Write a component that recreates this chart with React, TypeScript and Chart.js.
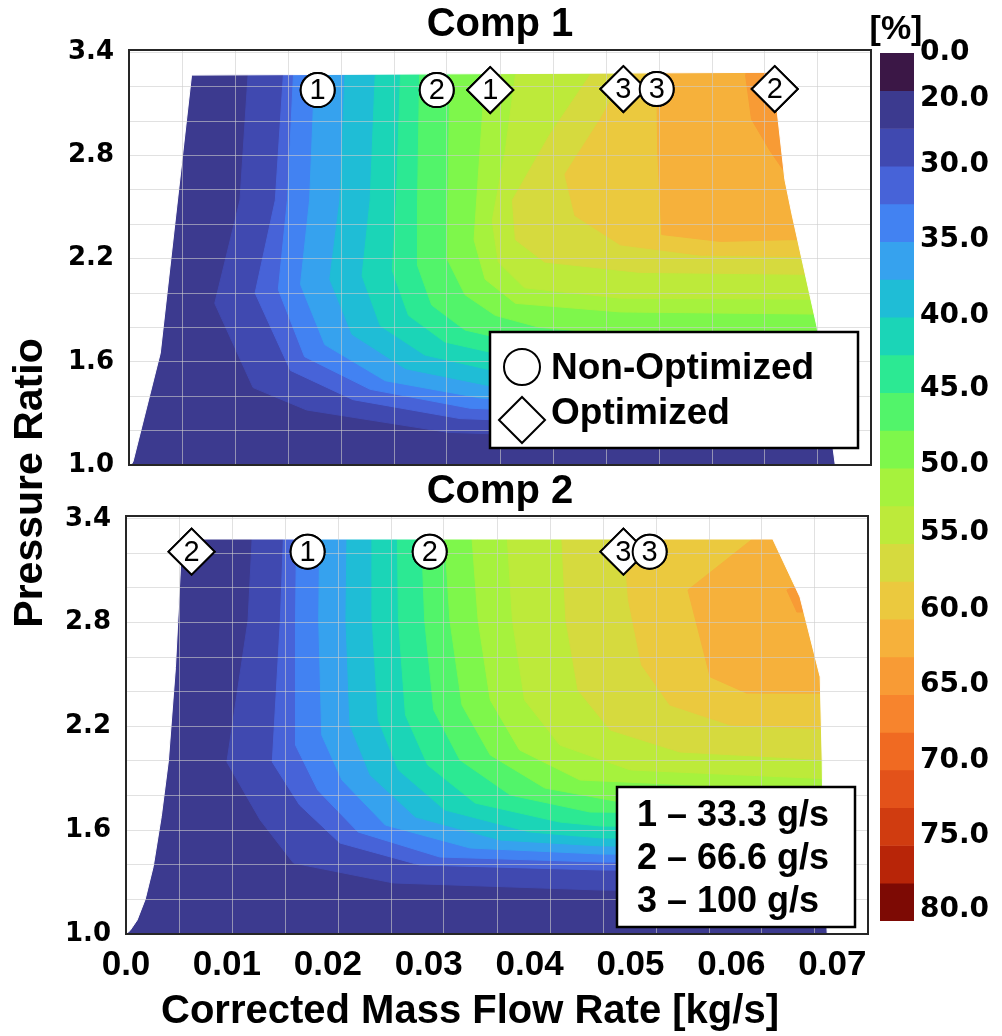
import React, { useEffect, useRef } from 'react';
import { Chart, registerables } from 'chart.js';

Chart.register(...registerables);

type P = [number, number];

// ---------------- colour scale ----------------
const levels = [0, 20, 25, 30, 32.5, 35, 37.5, 40, 42.5, 45, 47.5, 50, 52.5, 55, 57.5, 60, 62.5, 65, 67.5, 70, 72.5, 75, 77.5, 80];
const bandColors = [
  '#3b1746', '#3c3a8f', '#4049b0', '#4763d8', '#4282f2', '#36a2ee', '#1fbdd6', '#1bd5b7',
  '#2ce993', '#52f46a', '#7ef74b', '#a6f23d', '#bdea3a', '#d6da3e', '#ebc93e', '#f6b13b',
  '#f89b35', '#f7842d', '#f06a22', '#e3521a', '#d03c10', '#b82508', '#7d0a04',
];
const colorbarTickValues = [0, 20, 30, 35, 40, 45, 50, 55, 60, 65, 70, 75, 80];
// where each colour-bar label sits, in band units from the top of the bar
const colorbarTickPos = [0, 1.2, 2.95, 4.95, 6.95, 8.9, 10.9, 12.7, 14.75, 16.75, 18.75, 20.75, 22.7];
const yTickValues = [1.0, 1.6, 2.2, 2.8, 3.4];

// ---------------- Comp 1 ----------------
const comp1Outline: P[] = [[0.0002, 1.0], [0.0004, 1.02], [0.0031, 1.65], [0.0062, 3.267], [0.0632, 3.283], [0.0642, 3.08], [0.065, 2.66], [0.0657, 2.46], [0.0682, 1.8], [0.07, 1.0]];
const comp1_25: P[] = [[0.0118, 3.267], [0.011, 2.54], [0.0085, 1.94], [0.0123, 1.45], [0.0176, 1.32], [0.0316, 1.19], [0.0467, 1.16], [0.08, 1.145]];
const comp1_30: P[] = [[0.0153, 3.267], [0.0145, 2.54], [0.0125, 2.0], [0.016, 1.55], [0.0222, 1.38], [0.0328, 1.27], [0.0467, 1.24], [0.08, 1.22]];
const comp1_325: P[] = [[0.0163, 3.267], [0.0157, 2.54], [0.0148, 2.02], [0.0174, 1.63], [0.0239, 1.44], [0.0338, 1.33], [0.0467, 1.3], [0.08, 1.28]];
const comp1_35: P[] = [[0.0184, 3.267], [0.0179, 2.54], [0.017, 2.05], [0.0194, 1.7], [0.0254, 1.49], [0.0348, 1.39], [0.0467, 1.355], [0.08, 1.34]];
const comp1_375: P[] = [[0.0214, 3.267], [0.0209, 2.54], [0.0199, 2.08], [0.0221, 1.76], [0.0274, 1.56], [0.0358, 1.46], [0.0467, 1.42], [0.08, 1.41]];
const comp1_40: P[] = [[0.0244, 3.267], [0.0239, 2.54], [0.0231, 2.1], [0.0249, 1.81], [0.0293, 1.64], [0.0368, 1.54], [0.0467, 1.51], [0.08, 1.49]];
const comp1_425: P[] = [[0.0269, 3.267], [0.0265, 2.54], [0.0261, 2.13], [0.0277, 1.87], [0.0313, 1.715], [0.0378, 1.63], [0.0467, 1.6], [0.08, 1.59]];
const comp1_45: P[] = [[0.0288, 3.267], [0.0286, 2.54], [0.0286, 2.16], [0.03, 1.93], [0.0333, 1.785], [0.0388, 1.71], [0.0467, 1.68], [0.08, 1.67]];
const comp1_475: P[] = [[0.0318, 3.267], [0.0316, 2.54], [0.0316, 2.19], [0.0333, 1.99], [0.0363, 1.87], [0.0407, 1.8], [0.0467, 1.77], [0.08, 1.76]];
const comp1_50: P[] = [[0.0353, 3.267], [0.0346, 2.66], [0.0342, 2.31], [0.0353, 2.08], [0.0383, 1.94], [0.0487, 1.89], [0.08, 1.87]];
const comp1_525: P[] = [[0.0383, 3.267], [0.0373, 2.83], [0.036, 2.42], [0.0366, 2.18], [0.0392, 2.03], [0.0487, 1.97], [0.08, 1.96]];
const comp1_55: P[] = [[0.0457, 3.267], [0.0417, 2.92], [0.038, 2.54], [0.0383, 2.31], [0.0412, 2.18], [0.0506, 2.12], [0.08, 2.1]];
const comp1_575: P[] = [[0.0492, 3.267], [0.0467, 3.01], [0.0432, 2.69], [0.0442, 2.45], [0.0487, 2.28], [0.0566, 2.22], [0.08, 2.2]];
const comp1_60: P[] = [[0.0523, 3.27], [0.0524, 2.83], [0.0528, 2.34], [0.0586, 2.3], [0.0655, 2.31], [0.08, 2.31]];
const comp1_625: P[] = [[0.0611, 3.27], [0.0617, 3.01], [0.0635, 2.83], [0.0655, 2.66], [0.08, 2.66]];
const comp1Contours: [number, P[]][] = [
  [25, comp1_25], [30, comp1_30], [32.5, comp1_325], [35, comp1_35], [37.5, comp1_375], [40, comp1_40],
  [42.5, comp1_425], [45, comp1_45], [47.5, comp1_475], [50, comp1_50], [52.5, comp1_525], [55, comp1_55],
  [57.5, comp1_575], [60, comp1_60], [62.5, comp1_625],
];
const comp1NonOpt: P[] = [[0.0187, 3.18], [0.0305, 3.18], [0.0523, 3.186]];
const comp1NonOptIds = ['1', '2', '3'];
const comp1Opt: P[] = [[0.0358, 3.18], [0.049, 3.186], [0.064, 3.186]];
const comp1OptIds = ['1', '3', '2'];

// ---------------- Comp 2 ----------------
const comp2Outline: P[] = [[0.0, 1.0], [0.0004, 1.02], [0.0011, 1.08], [0.0019, 1.2], [0.0027, 1.39], [0.0035, 1.68], [0.0042, 2.0], [0.0049, 2.54], [0.0054, 3.12], [0.0055, 3.283], [0.0641, 3.283], [0.0668, 2.948], [0.0688, 2.486], [0.069, 2.006], [0.0691, 1.486], [0.0695, 1.0]];
const comp2_25: P[] = [[0.0125, 3.283], [0.0121, 2.815], [0.01, 1.994], [0.0133, 1.659], [0.0166, 1.41], [0.0265, 1.295], [0.0471, 1.254], [0.08, 1.24]];
const comp2_30: P[] = [[0.0156, 3.283], [0.0153, 2.815], [0.0145, 1.994], [0.0172, 1.746], [0.0212, 1.526], [0.0291, 1.399], [0.0471, 1.37], [0.08, 1.36]];
const comp2_325: P[] = [[0.0169, 3.283], [0.0168, 2.815], [0.0168, 2.092], [0.019, 1.832], [0.023, 1.59], [0.0311, 1.445], [0.0471, 1.416], [0.08, 1.41]];
const comp2_35: P[] = [[0.0192, 3.283], [0.0191, 2.815], [0.0194, 2.15], [0.0214, 1.89], [0.0257, 1.63], [0.0341, 1.497], [0.0471, 1.462], [0.08, 1.455]];
const comp2_375: P[] = [[0.0219, 3.283], [0.0218, 2.815], [0.0222, 2.208], [0.0242, 1.919], [0.0287, 1.676], [0.0371, 1.543], [0.0471, 1.509], [0.08, 1.5]];
const comp2_40: P[] = [[0.0244, 3.283], [0.0244, 2.815], [0.025, 2.237], [0.027, 1.948], [0.0316, 1.717], [0.04, 1.59], [0.0471, 1.555], [0.08, 1.545]];
const comp2_425: P[] = [[0.0269, 3.283], [0.027, 2.815], [0.0277, 2.266], [0.0299, 1.977], [0.0346, 1.757], [0.043, 1.647], [0.0471, 1.624], [0.08, 1.61]];
const comp2_45: P[] = [[0.0293, 3.283], [0.0296, 2.815], [0.0305, 2.295], [0.0331, 2.006], [0.0381, 1.803], [0.046, 1.705], [0.08, 1.69]];
const comp2_475: P[] = [[0.0316, 3.283], [0.0321, 2.815], [0.0333, 2.324], [0.0361, 2.035], [0.0415, 1.844], [0.049, 1.763], [0.08, 1.745]];
const comp2_50: P[] = [[0.0343, 3.283], [0.0349, 2.815], [0.0361, 2.353], [0.039, 2.064], [0.045, 1.89], [0.08, 1.8]];
const comp2_525: P[] = [[0.0378, 3.283], [0.0383, 2.815], [0.0395, 2.353], [0.043, 2.092], [0.05, 1.948], [0.08, 1.87]];
const comp2_55: P[] = [[0.0432, 3.283], [0.0436, 2.815], [0.0448, 2.41], [0.048, 2.179], [0.0549, 2.052], [0.08, 1.975]];
const comp2_575: P[] = [[0.0493, 3.283], [0.0498, 2.931], [0.0511, 2.555], [0.0539, 2.324], [0.0599, 2.208], [0.08, 2.16]];
const comp2_60: P[] = [[0.0621, 3.283], [0.0557, 2.988], [0.0579, 2.486], [0.0615, 2.393], [0.08, 2.39]];
const comp2_625: P[] = [[0.0673, 3.038], [0.0655, 2.988], [0.0665, 2.861], [0.08, 2.86]];
const comp2Contours: [number, P[]][] = [
  [25, comp2_25], [30, comp2_30], [32.5, comp2_325], [35, comp2_35], [37.5, comp2_375], [40, comp2_40],
  [42.5, comp2_425], [45, comp2_45], [47.5, comp2_475], [50, comp2_50], [52.5, comp2_525], [55, comp2_55],
  [57.5, comp2_575], [60, comp2_60], [62.5, comp2_625],
];
const comp2NonOpt: P[] = [[0.018, 3.21], [0.0301, 3.21], [0.0519, 3.21]];
const comp2NonOptIds = ['1', '2', '3'];
const comp2Opt: P[] = [[0.0065, 3.21], [0.0493, 3.21]];
const comp2OptIds = ['2', '3'];

const flowLegend = ['1 – 33.3 g/s', '2 – 66.6 g/s', '3 – 100 g/s'];

// ---------------- styling ----------------
const ARIAL = "'Liberation Sans', Arial, Helvetica, sans-serif";
const WIDE = "'DejaVu Sans', Verdana, sans-serif";
const GRID = 'rgba(205,205,205,0.6)';
const X_MAX = 0.07354;
const XL = -0.005, XR = 0.08, YL = 0.9, YH = 3.6;
const W = 1002, H = 1036;

function polygon(pts: P[], color: string): any {
  return {
    type: 'line',
    xAxisID: 'x',
    yAxisID: 'y',
    data: pts.map(([x, y]) => ({ x, y })),
    borderColor: color,
    backgroundColor: color,
    borderWidth: 1,
    pointRadius: 0,
    pointHoverRadius: 0,
    fill: 'shape',
    tension: 0,
    clip: 0,
  };
}

function markerSet(pts: P[], ids: string[], style: string, r: number): any {
  return {
    type: 'line',
    xAxisID: 'x',
    yAxisID: 'y',
    data: pts.map(([x, y]) => ({ x, y })),
    showLine: false,
    pointStyle: style,
    pointRadius: r,
    pointHoverRadius: r,
    pointBackgroundColor: '#ffffff',
    pointBorderColor: '#000000',
    pointBorderWidth: 2,
    ids,
    clip: false,
  };
}

function buildDatasets(outline: P[], contours: [number, P[]][], markers: any[]) {
  const list: any[] = [];
  list.push(polygon([[XL, YL], [XR, YL], [XR, YH], [XL, YH]], bandColors[levels.indexOf(20)]));
  for (const [lvl, pts] of contours) {
    const f = pts[0];
    const l = pts[pts.length - 1];
    list.push(polygon([...pts, [l[0], YH], [f[0], YH]], bandColors[levels.indexOf(lvl)]));
  }
  list.push(polygon([...outline, [XR, YL], [XR, YH], [XL, YH], [XL, YL], [outline[0][0], YL]], '#ffffff'));
  for (const m of markers) list.push(m);
  const n = list.length;
  list.forEach((d, i) => { d.order = n - i; });
  return list;
}

function gridAxis() {
  return {
    type: 'linear', position: 'bottom', min: 0, max: 0.07,
    ticks: { display: false, stepSize: 0.005, includeBounds: false },
    grid: { color: GRID, z: 1, drawTicks: false, lineWidth: 1 },
    border: { display: false },
    afterFit: (s: any) => { s.height = 0; },
  };
}

function yAxis(yMax: number, leftWidth: number) {
  return {
    type: 'linear', position: 'left', min: 1, max: yMax,
    ticks: {
      stepSize: 0.2, includeBounds: false, autoSkip: false, padding: 15, color: '#000',
      font: { family: WIDE, size: 26, weight: 'bold' },
      callback: (v: number) => (yTickValues.some((t) => Math.abs(t - v) < 1e-6) ? v.toFixed(1) : ''),
    },
    grid: { color: GRID, z: 1, drawTicks: false, lineWidth: 1 },
    border: { display: false },
    afterFit: (s: any) => { s.width = leftWidth; },
  };
}

function drawMarkersAndFrame(chart: any) {
  const { ctx, chartArea: a } = chart;
  chart.data.datasets.forEach((ds: any, i: number) => {
    if (!ds.ids) return;
    const meta = chart.getDatasetMeta(i);
    meta.data.forEach((el: any, j: number) => {
      el.draw(ctx, a);
      ctx.save();
      ctx.fillStyle = '#000';
      ctx.font = `29px ${ARIAL}`;
      ctx.textAlign = 'center';
      ctx.textBaseline = 'middle';
      ctx.fillText(ds.ids[j], el.x, el.y + 1);
      ctx.restore();
    });
  });
  ctx.save();
  ctx.strokeStyle = '#262626';
  ctx.lineWidth = 2;
  ctx.strokeRect(a.left, a.top, a.width, a.height);
  ctx.restore();
}

function drawCircle(ctx: any, x: number, y: number, r: number) {
  ctx.beginPath();
  ctx.arc(x, y, r, 0, Math.PI * 2);
  ctx.fillStyle = '#fff';
  ctx.fill();
  ctx.lineWidth = 2;
  ctx.strokeStyle = '#000';
  ctx.stroke();
}

function drawDiamond(ctx: any, x: number, y: number, r: number) {
  ctx.beginPath();
  ctx.moveTo(x - r, y);
  ctx.lineTo(x, y - r);
  ctx.lineTo(x + r, y);
  ctx.lineTo(x, y + r);
  ctx.closePath();
  ctx.fillStyle = '#fff';
  ctx.fill();
  ctx.lineWidth = 2;
  ctx.strokeStyle = '#000';
  ctx.stroke();
}

const topPlugin = {
  id: 'comp1Deco',
  afterDraw(chart: any) {
    const { ctx } = chart;
    drawMarkersAndFrame(chart);
    ctx.save();
    ctx.fillStyle = '#000';
    ctx.font = `bold 40px ${ARIAL}`;
    ctx.textAlign = 'center';
    ctx.textBaseline = 'middle';
    ctx.fillText('Comp 1', 500, 25);
    // marker legend
    ctx.fillStyle = '#fff';
    ctx.fillRect(490, 332, 368, 116);
    ctx.lineWidth = 2.5;
    ctx.strokeStyle = '#000';
    ctx.strokeRect(490, 332, 368, 116);
    drawCircle(ctx, 522, 367, 18);
    drawDiamond(ctx, 522, 420, 23);
    ctx.fillStyle = '#000';
    ctx.font = `bold 37px ${ARIAL}`;
    ctx.textAlign = 'left';
    ctx.textBaseline = 'middle';
    ctx.fillText('Non-Optimized', 551, 369);
    ctx.fillText('Optimized', 551, 414);
    ctx.restore();
  },
};

const bottomPlugin = {
  id: 'comp2Deco',
  afterDraw(chart: any) {
    const { ctx } = chart;
    drawMarkersAndFrame(chart);
    ctx.save();
    ctx.fillStyle = '#000';
    ctx.font = `bold 40px ${ARIAL}`;
    ctx.textAlign = 'center';
    ctx.textBaseline = 'middle';
    ctx.fillText('Comp 2', 500, 492);
    // x-axis title
    ctx.font = `bold 40px ${ARIAL}`;
    ctx.fillText('Corrected Mass Flow Rate [kg/s]', 470, 1012);
    // flow legend
    ctx.fillStyle = '#fff';
    ctx.fillRect(617, 787, 238, 140);
    ctx.lineWidth = 2.5;
    ctx.strokeStyle = '#000';
    ctx.strokeRect(617, 787, 238, 140);
    ctx.fillStyle = '#000';
    ctx.font = `bold 36px ${ARIAL}`;
    ctx.textAlign = 'left';
    flowLegend.forEach((t, i) => ctx.fillText(t, 637, 816 + i * 43));
    // shared y title
    ctx.translate(31, 483);
    ctx.rotate(-Math.PI / 2);
    ctx.textAlign = 'center';
    ctx.font = `bold 41px ${ARIAL}`;
    ctx.fillText('Pressure Ratio', 0, 0);
    ctx.restore();
  },
};

const colorbarPlugin = {
  id: 'cbDeco',
  afterDraw(chart: any) {
    const { ctx } = chart;
    ctx.save();
    ctx.fillStyle = '#000';
    ctx.font = `bold 34px ${ARIAL}`;
    ctx.textAlign = 'center';
    ctx.textBaseline = 'middle';
    ctx.fillText('[%]', 896, 30);
    ctx.restore();
  },
};

function commonOptions() {
  return {
    responsive: false,
    animation: false as const,
    events: [] as any[],
    plugins: { legend: { display: false }, tooltip: { enabled: false }, title: { display: false } },
  };
}

export default function App() {
  const topRef = useRef<HTMLCanvasElement>(null);
  const botRef = useRef<HTMLCanvasElement>(null);
  const cbRef = useRef<HTMLCanvasElement>(null);

  useEffect(() => {
    const charts: Chart[] = [];

    charts.push(new Chart(botRef.current as HTMLCanvasElement, {
      type: 'line',
      data: {
        datasets: buildDatasets(comp2Outline, comp2Contours, [
          markerSet(comp2Opt, comp2OptIds, 'rectRot', 23),
          markerSet(comp2NonOpt, comp2NonOptIds, 'circle', 17),
        ]),
      },
      options: {
        ...commonOptions(),
        layout: { padding: { left: 0, right: W - 868, top: 516, bottom: 0 } },
        scales: {
          x: {
            type: 'linear', position: 'bottom', min: 0, max: X_MAX,
            ticks: {
              stepSize: 0.01, includeBounds: false, autoSkip: false, maxRotation: 0, padding: 10, color: '#000',
              font: { family: ARIAL, size: 35, weight: 'bold' },
              callback: (v: number) => (Math.abs(v) < 1e-9 ? '0.0' : v.toFixed(2)),
            },
            grid: { display: false, drawTicks: false },
            border: { display: false },
            afterFit: (s: any) => { s.height = H - 934; },
          },
          xg: gridAxis(),
          y: yAxis(3.416, 126),
        },
      } as any,
      plugins: [bottomPlugin],
    } as any));

    charts.push(new Chart(topRef.current as HTMLCanvasElement, {
      type: 'line',
      data: {
        datasets: buildDatasets(comp1Outline, comp1Contours, [
          markerSet(comp1Opt, comp1OptIds, 'rectRot', 23),
          markerSet(comp1NonOpt, comp1NonOptIds, 'circle', 17),
        ]),
      },
      options: {
        ...commonOptions(),
        layout: { padding: { left: 0, right: W - 871, top: 50, bottom: H - 465 } },
        scales: {
          x: { type: 'linear', min: 0, max: X_MAX, display: false },
          xg: gridAxis(),
          y: yAxis(3.413, 129),
        },
      } as any,
      plugins: [topPlugin],
    } as any));

    charts.push(new Chart(cbRef.current as HTMLCanvasElement, {
      type: 'bar',
      data: {
        labels: [''],
        datasets: bandColors.map((c) => ({
          data: [1], backgroundColor: c, borderWidth: 0, stack: 'cb',
          barPercentage: 1, categoryPercentage: 1,
        })),
      },
      options: {
        ...commonOptions(),
        layout: { padding: { left: 880, right: 0, top: 53, bottom: H - 921 } },
        scales: {
          x: { display: false, stacked: true },
          y: {
            type: 'linear', position: 'right', stacked: true, min: 0, max: bandColors.length, reverse: true,
            afterBuildTicks: (s: any) => {
              s.ticks = colorbarTickPos.map((p) => ({ value: p }));
            },
            ticks: {
              autoSkip: false, padding: 6, color: '#000',
              font: { family: WIDE, size: 28, weight: 'bold' },
              callback: (_v: number, i: number) => colorbarTickValues[i].toFixed(1),
            },
            grid: { display: false, drawTicks: false },
            border: { display: false },
            afterFit: (s: any) => { s.width = W - 914; },
          },
        },
      } as any,
      plugins: [colorbarPlugin],
    } as any));

    return () => charts.forEach((c) => c.destroy());
  }, []);

  const cs: React.CSSProperties = { position: 'absolute', left: 0, top: 0, width: W, height: H };
  return (
    <div style={{ position: 'absolute', left: 0, top: 0, width: W, height: H, background: '#fff', overflow: 'hidden' }}>
      <canvas ref={botRef} width={W} height={H} style={cs} />
      <canvas ref={topRef} width={W} height={H} style={cs} />
      <canvas ref={cbRef} width={W} height={H} style={cs} />
    </div>
  );
}
